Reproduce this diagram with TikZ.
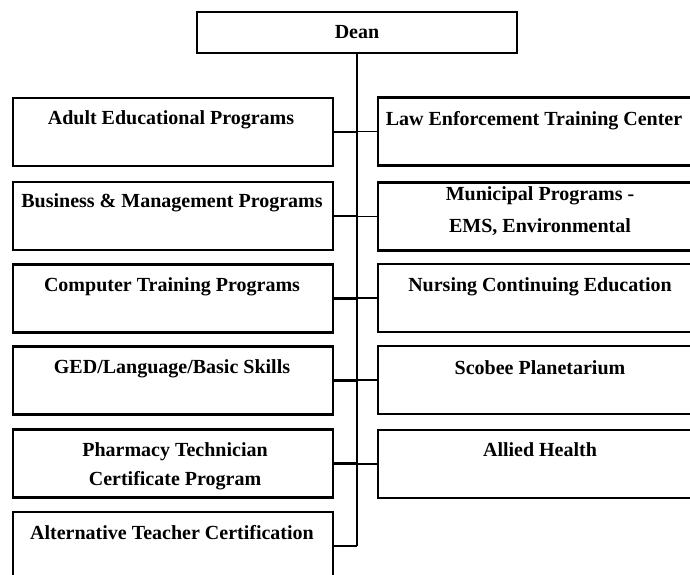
\documentclass[tikz,border=0pt]{standalone}
\usepackage{fontspec}
\setmainfont{Liberation Serif}
\begin{document}
\begin{tikzpicture}[x=1pt,y=-1pt,
  box/.style={draw,line width=2.6pt,inner sep=0pt,outer sep=0pt,minimum height=68pt},
  lbox/.style={box,minimum width=320pt},
  rbox/.style={box,minimum width=314pt},
  lbl/.style={anchor=base,inner sep=0pt,font=\fontsize{20}{24}\selectfont\bfseries},
  trunk/.style={line width=2.6pt},
  lconn/.style={line width=2.6pt},
  rconn/.style={line width=1.6pt}]
\useasboundingbox (0,0) rectangle (690,575);
% Dean
\node[box,minimum width=320pt,minimum height=41pt] (D) at (357,32.5) {};
\node[lbl] (tD) at (357,39) {Dean};
% left boxes
\node[lbox] (L1) at (173,132) {};
\node[lbox] (L2) at (173,216) {};
\node[lbox] (L3) at (173,298.5) {};
\node[lbox] (L4) at (173,380.5) {};
\node[lbox] (L5) at (173,463.5) {};
\node[lbox] (L6) at (173,546) {};
\node[lbl] (tL1) at (171,124.5) {Adult Educational Programs};
\node[lbl] (tL2) at (172,207.5) {Business \& Management Programs};
\node[lbl] (tL3) at (172,291.5) {Computer Training Programs};
\node[lbl] (tL4) at (172,373.5) {GED/Language/Basic Skills};
\node[lbl] (tL5a) at (175,456) {Pharmacy Technician};
\node[lbl] (tL5b) at (175,485) {Certificate Program};
\node[lbl] (tL6) at (172,539) {Alternative Teacher Certification};
% right boxes
\node[rbox] (R1) at (535,131.5) {};
\node[rbox] (R2) at (535,216.5) {};
\node[rbox] (R3) at (535,298) {};
\node[rbox] (R4) at (535,380) {};
\node[rbox] (R5) at (535,464) {};
\node[lbl] (tR1) at (534,125) {Law Enforcement Training Center};
\node[lbl] (tR2a) at (540,200.5) {Municipal Programs -};
\node[lbl] (tR2b) at (540,232.5) {EMS, Environmental};
\node[lbl] (tR3) at (540,291.5) {Nursing Continuing Education};
\node[lbl] (tR4) at (540,374) {Scobee Planetarium};
\node[lbl] (tR5) at (540,456) {Allied Health};
% connectors
\draw[trunk] (D.south) -- (L6.east -| D.south);
\foreach \n in {L1,L2,L3,L4,L5,L6} \draw[lconn] (\n.east) -- (\n.east -| D.south);
\foreach \n in {R1,R2,R3,R4,R5} \draw[rconn] (\n.west) -- (\n.west -| D.south);
\end{tikzpicture}
\end{document}
